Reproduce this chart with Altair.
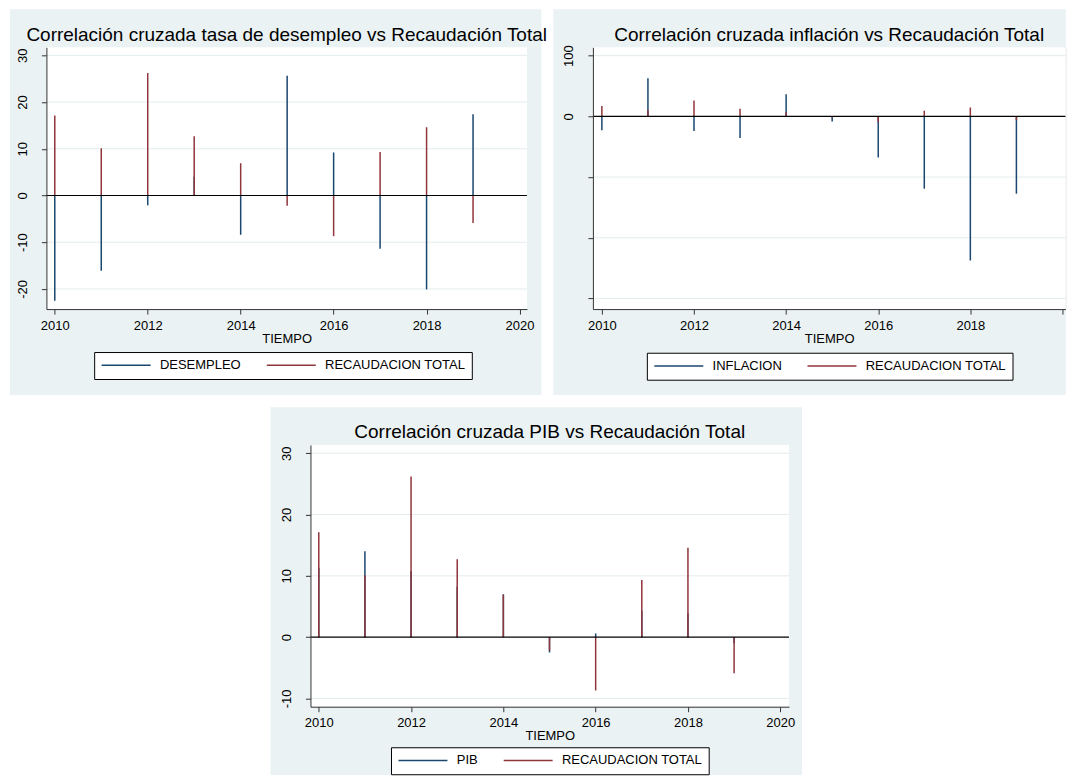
import altair as alt
import pandas as pd

FONT = "Liberation Sans"
NAVY = "#1A476F"
MAROON = "#90353B"
BG = "#EAF2F3"
GRID = "#E3ECEE"

# ---- data ----
years = [2010, 2011, 2012, 2013, 2014, 2015, 2016, 2017, 2018, 2019]
desempleo = [-22.5, -16.1, -2.1, 4.0, -8.4, 25.6, 9.2, -11.4, -20.1, 17.4]
inflacion = [-23.0, 62.8, -24.2, -35.6, 36.2, -8.6, -67.6, -119.1, -237.5, -127.4]
pib = [11.3, 14.0, 10.8, 8.2, 7.0, -2.5, 0.6, 4.3, 3.9, -1.0]
recaudacion = [17.1, 10.1, 26.2, 12.7, 6.9, -2.2, -8.7, 9.3, 14.6, -5.9]

x_ticks = [2010, 2012, 2014, 2016, 2018, 2020]
y_ticks_des = [-20, -10, 0, 10, 20, 30]
y_ticks_inf = [-300, -200, -100, 0, 100]
y_ticks_pib = [-10, 0, 10, 20, 30]

titles = [
    "Correlación cruzada tasa de desempleo vs Recaudación Total",
    "Correlación cruzada inflación vs Recaudación Total",
    "Correlación cruzada PIB vs Recaudación Total",
]
series_names = ["DESEMPLEO", "INFLACION", "PIB"]
other_name = "RECAUDACION TOTAL"


def panel(title, name, values, yticks, ydomain, xdomain, W, H, pads, legxy,
          neg_labels=True, last_xlabel=True, shift_title_x=None):
    L, R, T, B = pads
    df = pd.DataFrame({
        "year": years + years,
        "v": values + recaudacion,
        "serie": [name] * len(years) + [other_name] * len(years),
    })
    one = pd.DataFrame({"k": [0]})
    if neg_labels:
        lab = "(datum.value < 0 ? '-' : '') + format(abs(datum.value), 'd')"
    else:
        lab = "datum.value >= 0 ? format(datum.value, 'd') : ''"
    xlab = "format(datum.value, 'd')" if last_xlabel else "datum.value < 2020 ? format(datum.value, 'd') : ''"
    axis_kw = dict(values=yticks, grid=False, labelAngle=270, labelAlign="center",
                   labelBaseline="alphabetic", labelPadding=15, tickSize=5,
                   labelExpr=lab, zindex=1, labelOverlap=False, labelFlush=False)
    if shift_title_x is not None:
        # blank axis title placed to the left: widens the panel's layout box so the
        # centred bottom panel sits where it does in the reference
        axis_kw.update(title=" ", titleAngle=0, titleAlign="right", titleBaseline="middle",
                       titleX=shift_title_x, titleY=H / 2)
    else:
        axis_kw.update(title=None)
    yaxis = alt.Axis(**axis_kw)
    yscale = alt.Scale(domain=ydomain, nice=False, zero=False)
    y = alt.Y("v:Q", scale=yscale, axis=yaxis)

    bg = alt.Chart(one).mark_rect(fill=BG).encode(
        x=alt.value(-L), x2=alt.value(W + R), y=alt.value(-T), y2=alt.value(H + B))
    white = alt.Chart(one).mark_rect(fill="white").encode(
        x=alt.value(0), x2=alt.value(W), y=alt.value(0), y2=alt.value(H))
    grid = alt.Chart(pd.DataFrame({"v": [t for t in yticks if t != 0]})).mark_rule(
        color=GRID, strokeWidth=1).encode(y=y)
    spikes = alt.Chart(df).mark_rule(strokeWidth=1.5).encode(
        x=alt.X("year:Q", scale=alt.Scale(domain=xdomain, nice=False, zero=False),
                axis=alt.Axis(values=x_ticks, labelExpr=xlab, title="TIEMPO", tickSize=5,
                              labelPadding=5, titlePadding=0, grid=False, zindex=1,
                              labelFlush=False, labelOverlap=False)),
        y=y,
        y2=alt.datum(0),
        color=alt.Color("serie:N",
                        scale=alt.Scale(domain=[name, other_name], range=[NAVY, MAROON]),
                        legend=alt.Legend(orient="none", legendX=legxy[0], legendY=legxy[1],
                                          direction="horizontal", title=None,
                                          symbolType="stroke", symbolSize=2401,
                                          symbolStrokeWidth=1.5, clipHeight=13,
                                          labelOffset=8.3, columnPadding=24.3,
                                          padding=6.5, strokeColor="black",
                                          fillColor="white", labelFont=FONT,
                                          labelFontSize=13, labelColor="black",
                                          labelLimit=0)),
    )
    zero = alt.Chart(pd.DataFrame({"v": [0]})).mark_rule(color="black", strokeWidth=1.2).encode(y=y)
    ttl = alt.Chart(one).mark_text(fontSize=19, font=FONT, color="black", align="center",
                                   baseline="alphabetic").encode(
        x=alt.value(W / 2), y=alt.value(-6.5), text=alt.value(title))
    return alt.layer(bg, white, grid, spikes, zero, ttl).properties(width=W, height=H)


p1 = panel(titles[0], series_names[0], desempleo, y_ticks_des, [-24.3, 31.7],
           [2009.82, 2020.16], 481, 262, (36.5, 14.5, 38, 86), (47.8, 305))
p2 = panel(titles[1], series_names[1], inflacion, y_ticks_inf, [-317.5, 113.7],
           [2009.805, 2020.065], 473, 262, (39.7, 0.3, 38, 86), (54, 305.7),
           neg_labels=False, last_xlabel=False)
p3 = panel(titles[2], series_names[2], pib, y_ticks_pib, [-11.35, 31.35],
           [2009.82, 2020.19], 479, 262, (40, 13, 37.7, 68.3), (80.6, 302.6),
           shift_title_x=-46.5)

row = alt.hconcat(p1, p2, spacing=66, bounds="flush").resolve_scale(
    x="independent", y="independent", color="independent").resolve_legend(color="independent")

chart = alt.vconcat(row, p3, spacing=10, center=True, bounds="full").resolve_scale(
    x="independent", y="independent", color="independent").resolve_legend(
    color="independent").properties(
    padding={"left": 1, "top": 0, "right": 0, "bottom": 0}, background="white"
).configure_view(strokeWidth=0, strokeOpacity=0).configure(font=FONT).configure_axis(
    labelFont=FONT, titleFont=FONT, labelFontSize=13, titleFontSize=13,
    labelColor="black", titleColor="black", titleFontWeight="normal",
    domainColor="#333333", tickColor="#333333", domainWidth=1, tickWidth=1)

chart.save("out.html", embed_options={"renderer": "svg", "actions": False})
